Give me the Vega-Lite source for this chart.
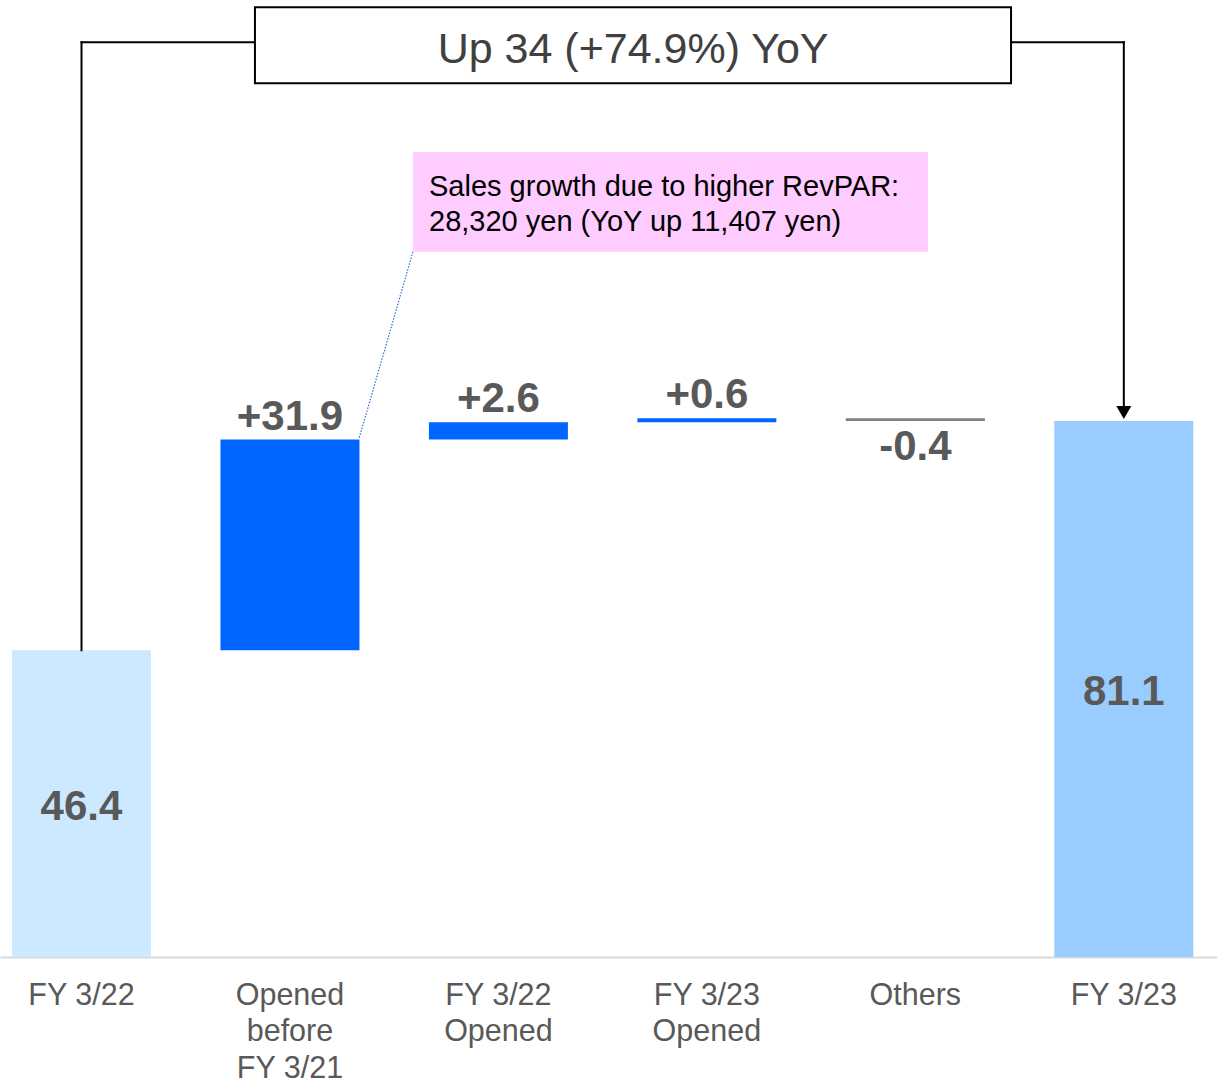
{
  "$schema": "https://vega.github.io/schema/vega-lite/v6.json",
  "width": 1217,
  "height": 957,
  "padding": 0,
  "background": "white",
  "config": {"view": {"stroke": null}, "font": "Liberation Sans"},
  "resolve": {"scale": {"x": "independent"}},
  "layer": [
    {
      "data": {
        "values": [
          {"cat": "FY 3/22", "start": 0, "end": 46.4, "kind": "base", "label": "46.4"},
          {"cat": "Opened before FY 3/21", "start": 46.4, "end": 78.3, "kind": "up", "label": "+31.9"},
          {"cat": "FY 3/22 Opened", "start": 78.3, "end": 80.9, "kind": "up", "label": "+2.6"},
          {"cat": "FY 3/23 Opened", "start": 80.9, "end": 81.5, "kind": "up", "label": "+0.6"},
          {"cat": "Others", "start": 81.5, "end": 81.1, "kind": "down", "label": "-0.4"},
          {"cat": "FY 3/23", "start": 0, "end": 81.1, "kind": "total", "label": "81.1"}
        ]
      },
      "resolve": {"scale": {"y": "independent"}},
      "encoding": {
        "x": {
          "field": "cat",
          "type": "nominal",
          "sort": null,
          "scale": {"paddingInner": 0.3332, "paddingOuter": 0.0856, "align": 0.336},
          "axis": {
            "title": null,
            "labelAngle": 0,
            "ticks": false,
            "tickSize": 0,
            "labelPadding": 23,
            "labelFontSize": 30.5,
            "labelColor": "#595959",
            "labelFont": "Liberation Sans",
            "labelLineHeight": 36.5,
            "labelOverlap": false,
            "domainColor": "#d9d9d9",
            "domainWidth": 2,
            "labelExpr": "datum.label == 'Opened before FY 3/21' ? ['Opened', 'before', 'FY 3/21'] : datum.label == 'FY 3/22 Opened' ? ['FY 3/22', 'Opened'] : datum.label == 'FY 3/23 Opened' ? ['FY 3/23', 'Opened'] : datum.label"
          }
        }
      },
      "layer": [
        {
          "mark": {"type": "bar"},
          "encoding": {
            "y": {"field": "start", "type": "quantitative", "scale": {"domain": [0, 144.8], "nice": false, "zero": true}, "axis": null},
            "y2": {"field": "end"},
            "color": {
              "field": "kind",
              "type": "nominal",
              "scale": {"domain": ["base", "up", "down", "total"], "range": ["#cce9ff", "#0066ff", "#808080", "#99ccff"]},
              "legend": null
            }
          }
        },
        {
          "transform": [{"filter": "datum.kind == 'up'"}],
          "mark": {"type": "text", "fontSize": 42, "fontWeight": "bold", "color": "#595959", "baseline": "alphabetic", "dy": -10},
          "encoding": {
            "y": {"field": "end", "type": "quantitative", "scale": {"domain": [0, 144.8], "nice": false, "zero": true}, "axis": null},
            "text": {"field": "label"}
          }
        },
        {
          "transform": [{"filter": "datum.kind == 'down'"}],
          "mark": {"type": "text", "fontSize": 42, "fontWeight": "bold", "color": "#595959", "baseline": "alphabetic", "dy": 39},
          "encoding": {
            "y": {"field": "end", "type": "quantitative", "scale": {"domain": [0, 144.8], "nice": false, "zero": true}, "axis": null},
            "text": {"field": "label"}
          }
        },
        {
          "transform": [{"filter": "datum.kind == 'base' || datum.kind == 'total'"}],
          "mark": {"type": "text", "fontSize": 42, "fontWeight": "bold", "color": "#595959", "baseline": "middle", "dy": 3},
          "encoding": {
            "y": {"field": "end", "type": "quantitative", "scale": {"domain": [0, 289.6], "nice": false, "zero": true}, "axis": null},
            "text": {"field": "label"}
          }
        }
      ]
    },
    {
      "data": {"values": [{}]},
      "layer": [
        {
          "mark": {"type": "rule", "color": "black", "strokeWidth": 2, "strokeCap": "square"},
          "encoding": {
            "x": {"datum": 0, "type": "quantitative", "scale": {"domain": [-0.391, 5.447], "nice": false, "zero": false}, "axis": null},
            "y": {"datum": 46.4, "type": "quantitative", "scale": {"domain": [0, 144.8], "nice": false}, "axis": null},
            "y2": {"datum": 138.4}
          }
        },
        {
          "mark": {"type": "rule", "color": "black", "strokeWidth": 2, "strokeCap": "square"},
          "encoding": {
            "x": {"datum": 0, "type": "quantitative"},
            "x2": {"datum": 0.832},
            "y": {"datum": 138.4, "type": "quantitative"}
          }
        },
        {
          "mark": {"type": "rule", "color": "black", "strokeWidth": 2, "strokeCap": "square"},
          "encoding": {
            "x": {"datum": 4.459, "type": "quantitative"},
            "x2": {"datum": 5},
            "y": {"datum": 138.4, "type": "quantitative"}
          }
        },
        {
          "mark": {"type": "rule", "color": "black", "strokeWidth": 2, "strokeCap": "square"},
          "encoding": {
            "x": {"datum": 5, "type": "quantitative"},
            "y": {"datum": 138.4, "type": "quantitative"},
            "y2": {"datum": 82.6}
          }
        },
        {
          "mark": {"type": "point", "shape": "triangle-down", "filled": true, "color": "black", "size": 225, "opacity": 1, "strokeWidth": 0},
          "encoding": {
            "x": {"datum": 5, "type": "quantitative"},
            "y": {"datum": 82.4, "type": "quantitative"}
          }
        },
        {
          "mark": {"type": "rect", "fill": "white", "stroke": "black", "strokeWidth": 2},
          "encoding": {
            "x": {"datum": 0.832, "type": "quantitative"},
            "x2": {"datum": 4.459},
            "y": {"datum": 132.2, "type": "quantitative"},
            "y2": {"datum": 143.7}
          }
        },
        {
          "mark": {"type": "text", "text": "Up 34 (+74.9%) YoY", "fontSize": 43, "color": "#404040", "baseline": "middle", "align": "center", "dy": 2},
          "encoding": {
            "x": {"datum": 2.646, "type": "quantitative"},
            "y": {"datum": 137.5, "type": "quantitative"}
          }
        },
        {
          "mark": {"type": "rect", "fill": "#ffccff", "strokeWidth": 0},
          "encoding": {
            "x": {"datum": 1.59, "type": "quantitative"},
            "x2": {"datum": 4.061},
            "y": {"datum": 106.7, "type": "quantitative"},
            "y2": {"datum": 121.8}
          }
        },
        {
          "mark": {"type": "text", "text": ["Sales growth due to higher RevPAR:", "28,320 yen (YoY up 11,407 yen)"], "fontSize": 29, "lineHeight": 35, "color": "black", "baseline": "alphabetic", "align": "left"},
          "encoding": {
            "x": {"datum": 1.667, "type": "quantitative"},
            "y": {"datum": 115.2, "type": "quantitative"}
          }
        },
        {
          "mark": {"type": "rule", "color": "#2f6fd0", "strokeWidth": 1.2, "strokeDash": [1.5, 1.5]},
          "encoding": {
            "x": {"datum": 1.59, "type": "quantitative"},
            "x2": {"datum": 1.331},
            "y": {"datum": 106.7, "type": "quantitative"},
            "y2": {"datum": 78.4}
          }
        }
      ]
    }
  ]
}
